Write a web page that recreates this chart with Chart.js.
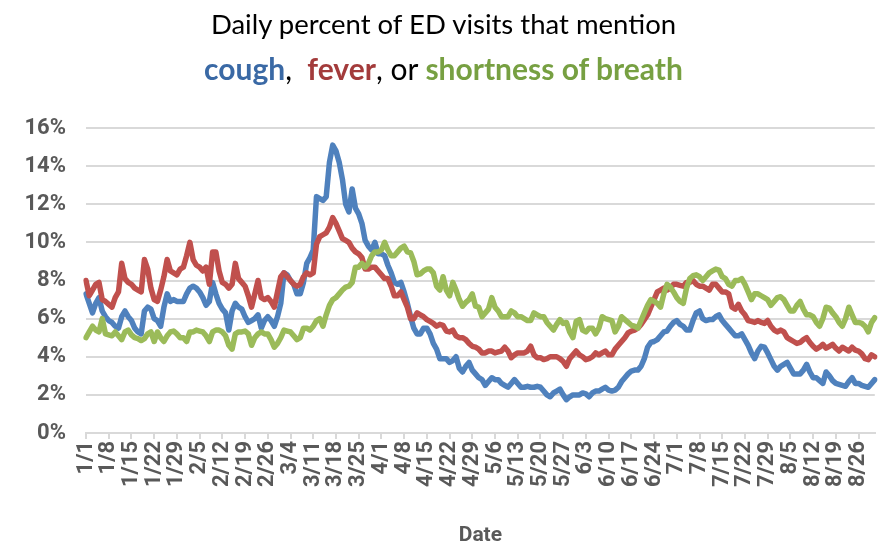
<!DOCTYPE html>
<html><head><meta charset="utf-8">
<script src="https://cdn.jsdelivr.net/npm/chart.js@4"></script>
<style>
html,body{margin:0;padding:0;background:#fff;}
#wrap{position:relative;width:887px;height:550px;overflow:hidden;}
#c{position:absolute;left:0;top:0;}
.t{position:absolute;left:0;width:887px;text-align:center;font-family:Lato,'Noto Sans',sans-serif;color:#000;white-space:nowrap;}
.l1{top:7px;font-size:27.5px;}
.l2{top:50px;font-size:30px;}
.b{font-weight:bold;}
</style></head>
<body>
<div id="wrap">
<canvas id="c" width="887" height="550"></canvas>
<div class="t l1">Daily percent of ED visits that mention</div>
<div class="t l2"><span class="b" style="color:#3a69a5">cough</span>,&nbsp; <span class="b" style="color:#a33b3b">fever</span>, or <span class="b" style="color:#77a042">shortness of breath</span></div>
</div>
<script>
const monthLengths = [31,29,31,30,31,30,31,31];
const dates = [];
monthLengths.forEach((n,mi)=>{ for(let d=1; d<=n; d++) dates.push((mi+1)+'/'+d); });

const cough = [
7.3,6.8,6.3,6.8,7.1,6.4,6.1,5.9,5.8,5.6,
5.5,6.1,6.4,6.1,5.9,5.5,5.3,5.2,6.4,6.6,
6.5,6.0,5.9,5.6,6.6,7.3,6.9,7.0,6.9,6.9,
6.9,7.3,7.6,7.7,7.6,7.4,7.1,6.7,6.9,7.9,
7.3,6.8,6.5,6.3,5.4,6.4,6.8,6.6,6.5,6.1,
5.8,5.9,6.0,6.2,5.5,5.9,6.1,5.9,5.6,6.1,
6.8,8.4,8.3,8.0,7.8,7.3,7.3,7.9,8.9,9.2,
9.6,12.4,12.3,12.2,12.4,14.2,15.1,14.8,14.2,13.3,
12.0,11.6,12.8,11.8,11.5,11.0,10.1,9.8,9.6,10.0,
9.4,9.4,9.3,8.8,8.4,7.9,7.8,7.9,7.4,6.8,
6.1,5.5,5.2,5.2,5.5,5.5,5.2,4.7,4.4,3.9,
3.9,3.9,3.7,3.8,4.0,3.4,3.2,3.5,3.7,3.3,
3.1,2.9,2.8,2.5,2.7,2.9,2.8,2.8,2.6,2.5,
2.4,2.6,2.8,2.6,2.4,2.4,2.45,2.4,2.4,2.45,
2.4,2.2,2.0,1.9,2.1,2.2,2.3,2.0,1.75,1.9,
2.0,2.0,2.0,2.1,2.05,1.9,2.1,2.2,2.2,2.3,
2.4,2.25,2.2,2.25,2.4,2.7,2.9,3.1,3.25,3.3,
3.3,3.5,3.9,4.5,4.75,4.8,4.9,5.1,5.3,5.35,
5.6,5.8,5.9,5.7,5.6,5.4,5.4,5.9,6.3,6.4,
6.0,5.9,5.95,5.95,6.1,6.2,5.9,5.7,5.5,5.3,
5.1,5.1,5.2,4.9,4.6,4.2,3.9,4.3,4.55,4.5,
4.2,3.85,3.5,3.3,3.5,3.6,3.7,3.4,3.1,3.1,
3.1,3.3,3.6,3.2,2.9,2.9,2.75,2.6,3.2,3.0,
2.75,2.6,2.55,2.5,2.45,2.7,2.9,2.6,2.6,2.5,
2.45,2.4,2.6,2.8
];
const fever = [
8.0,7.2,7.5,7.8,7.9,7.0,6.9,6.75,6.6,7.1,
7.4,8.9,8.1,7.9,7.8,7.6,7.5,7.4,9.1,8.6,
7.6,7.0,6.9,7.5,8.2,9.1,8.5,8.4,8.3,8.6,
8.7,9.3,10.0,9.1,8.8,8.7,8.5,8.7,7.8,9.5,
9.5,8.5,7.9,7.8,7.6,7.8,8.9,8.1,7.9,7.7,
7.2,6.6,7.3,8.0,7.1,7.0,7.1,6.9,6.6,7.4,
8.2,8.4,8.2,8.0,7.8,7.7,7.8,8.2,8.4,8.3,
8.4,9.9,10.3,10.4,10.5,10.8,11.3,11.0,10.6,10.2,
10.1,10.0,9.7,9.5,9.4,9.2,8.6,8.6,8.7,8.7,
8.5,8.3,8.1,8.1,7.7,7.2,7.2,7.4,7.0,6.6,
6.0,6.0,6.3,6.2,6.1,5.95,5.85,5.75,5.6,5.7,
5.65,5.35,5.3,5.4,5.1,5.0,5.0,4.9,4.7,4.55,
4.5,4.4,4.2,4.2,4.3,4.3,4.2,4.25,4.3,4.5,
4.3,3.95,4.1,4.2,4.2,4.2,4.3,4.55,4.1,3.95,
3.95,3.85,3.9,4.0,4.0,4.0,3.9,3.75,3.5,3.9,
4.1,4.3,4.1,4.0,3.85,3.9,4.0,4.2,4.1,4.2,
4.3,4.1,4.1,4.4,4.6,4.8,5.0,5.25,5.35,5.4,
5.5,5.7,5.95,6.2,6.6,7.0,7.4,7.5,7.6,7.5,
7.6,7.8,7.8,7.75,7.7,7.9,7.9,8.0,7.8,7.7,
7.7,7.6,7.5,7.8,7.8,7.6,7.4,7.4,7.3,6.6,
6.5,6.75,6.4,6.2,5.9,5.85,5.8,5.9,5.8,5.75,
5.9,5.6,5.4,5.3,5.4,5.3,5.0,4.9,4.8,4.7,
4.75,4.9,5.0,4.75,4.55,4.4,4.5,4.65,4.45,4.55,
4.65,4.45,4.3,4.5,4.4,4.3,4.5,4.35,4.3,4.15,
3.9,3.85,4.1,4.0
];
const shortnessOfBreath = [
5.0,5.3,5.6,5.4,5.3,6.0,5.2,5.15,5.1,5.3,
5.1,4.9,5.3,5.4,5.15,5.0,4.95,4.85,4.95,5.2,
5.3,4.8,5.3,5.0,4.8,5.1,5.3,5.35,5.2,5.0,
5.0,4.8,5.3,5.3,5.4,5.35,5.3,5.1,4.8,5.3,
5.4,5.4,5.3,5.1,4.6,4.4,5.2,5.3,5.3,5.35,
5.2,4.6,5.0,5.2,5.3,5.2,5.2,4.9,4.5,4.7,
5.0,5.4,5.35,5.3,5.1,4.9,5.0,5.5,5.5,5.4,
5.6,5.9,6.0,5.6,6.2,6.7,7.0,7.1,7.3,7.5,
7.65,7.7,7.9,8.7,8.7,8.9,8.7,8.9,9.3,9.5,
9.5,9.6,10.0,9.6,9.3,9.3,9.5,9.7,9.8,9.5,
9.45,9.0,8.3,8.35,8.5,8.6,8.6,8.4,7.7,7.5,
8.2,7.5,7.2,7.9,7.5,7.0,6.65,6.85,7.0,7.3,
6.65,6.6,6.1,6.3,6.5,7.1,6.6,6.4,6.1,6.1,
6.1,6.4,6.3,6.1,6.1,6.0,5.9,5.9,6.3,6.2,
6.1,6.1,5.8,5.6,5.4,5.7,5.95,5.75,5.8,5.3,
5.0,5.85,5.95,5.4,5.3,5.5,5.5,5.2,5.5,6.1,
6.0,5.95,5.9,5.3,5.6,6.1,5.95,5.8,5.65,5.6,
5.5,5.9,6.3,6.7,7.0,6.9,6.8,6.6,7.3,7.8,
7.65,7.4,7.1,6.9,6.8,7.6,8.1,8.25,8.3,8.2,
8.0,8.2,8.4,8.5,8.6,8.55,8.2,8.1,7.8,7.7,
8.0,8.0,8.1,7.8,7.4,7.0,7.3,7.3,7.2,7.1,
7.0,6.7,6.9,7.1,7.15,7.0,6.7,6.4,6.4,6.7,
6.9,6.5,6.2,6.2,6.1,5.8,5.6,6.0,6.6,6.55,
6.3,6.1,5.8,5.6,6.0,6.6,6.2,5.8,5.8,5.75,
5.6,5.3,5.8,6.05
];
const yTicks = [0,2,4,6,8,10,12,14,16];
const tickEvery = 7;

const fam = "Roboto, 'Liberation Sans', sans-serif";
new Chart(document.getElementById('c'), {
  type:'line',
  data:{labels:dates, datasets:[
    {label:'cough', data:cough, borderColor:'#4f81bd', backgroundColor:'#4f81bd', borderWidth:5.5, pointRadius:0, tension:0, order:3, borderJoinStyle:'round', borderCapStyle:'round'},
    {label:'fever', data:fever, borderColor:'#c0504d', backgroundColor:'#c0504d', borderWidth:5.5, pointRadius:0, tension:0, order:2, borderJoinStyle:'round', borderCapStyle:'round'},
    {label:'shortness of breath', data:shortnessOfBreath, borderColor:'#9bbb59', backgroundColor:'#9bbb59', borderWidth:5.5, pointRadius:0, tension:0, order:1, borderJoinStyle:'round', borderCapStyle:'round'}
  ]},
  options:{
    responsive:false, animation:false,
    layout:{padding:{left:10,right:2,top:128,bottom:0}},
    plugins:{legend:{display:false}, tooltip:{enabled:false}, title:{display:false}},
    scales:{
      x:{type:'category', offset:false,
        afterBuildTicks: s => { s.ticks = s.ticks.filter(t => t.value % tickEvery === 0); },
        afterFit: s => { s.height = 117; },
        ticks:{autoSkip:false, minRotation:90, maxRotation:90, padding:2, color:'#595959', font:{family:fam, size:22, weight:'bold'}},
        grid:{drawOnChartArea:false, drawTicks:true, tickLength:6, color:'#d9d9d9', lineWidth:2},
        border:{display:true, color:'#d9d9d9', width:2},
        title:{display:true, text:'Date', color:'#595959', font:{family:fam, size:21, weight:'bold'}, padding:{top:0,bottom:2}}
      },
      y:{min:0, max:16,
        afterBuildTicks: s => { s.ticks = yTicks.map(v => ({value:v})); },
        afterFit: s => { s.width = 76; },
        ticks:{padding:20, color:'#595959', font:{family:fam, size:22, weight:'bold'}, callback:v => v + '%'},
        grid:{color:'#d9d9d9', lineWidth:2, drawTicks:false},
        border:{display:false}
      }
    }
  }
});
</script>
</body></html>
